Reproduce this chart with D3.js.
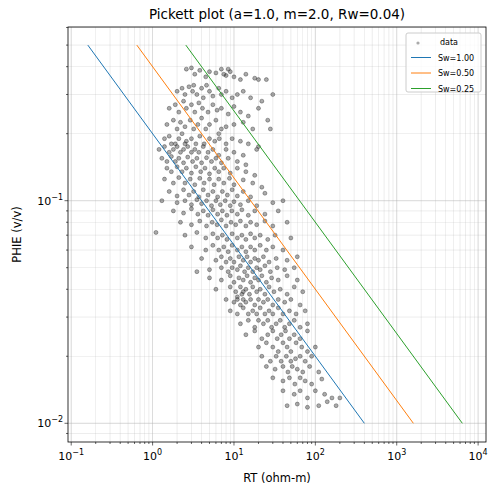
<!DOCTYPE html>
<html><head><meta charset="utf-8">
<script src="https://cdn.jsdelivr.net/npm/d3@7"></script>
<style>body{margin:0;background:#fff}text{font-family:"DejaVu Sans",sans-serif}</style>
</head><body><svg id="c" width="502" height="495"></svg>
<script>
const a=1.0, m=2.0, n=2.0, Rw=0.04;
const swValues=[1.0,0.5,0.25];
const swColors=["#1f77b4","#ff7f0e","#2ca02c"];
const xTickExps=[-1,0,1,2,3,4];
const yTickExps=[-2,-1];
// scatter data: [RT, PHIE]
const scatter=[
[2.6,0.39],[3.0,0.395],[3.3,0.37],[3.8,0.385],[4.5,0.36],[5,0.38],[6,0.375],[7,0.39],[8,0.365],[9,0.38],[10,0.36],[12,0.35],[14,0.37],[18,0.355],[20,0.35],[25,0.35],[8.5,0.39],[7.5,0.37],
[2.0,0.31],[2.3,0.32],[2.5,0.3],[2.8,0.325],[3.1,0.31],[3.5,0.3],[4,0.32],[4.2,0.29],[5,0.31],[5.5,0.295],[6.5,0.32],[7,0.3],[8,0.31],[9.5,0.29],[11,0.3],[13,0.31],[16,0.29],[22,0.28],[30,0.3],[3.2,0.33],[4.6,0.33],
[1.6,0.26],[1.9,0.27],[2.1,0.25],[2.4,0.28],[2.6,0.26],[3,0.27],[3.3,0.25],[3.7,0.275],[4.1,0.26],[4.8,0.25],[5.5,0.27],[6.2,0.255],[7,0.26],[8.5,0.245],[10,0.265],[12,0.25],[15,0.24],[20,0.26],[26,0.23],
[1.5,0.22],[1.8,0.23],[2,0.21],[2.2,0.225],[2.5,0.215],[2.9,0.23],[3.2,0.21],[3.6,0.22],[4,0.235],[4.5,0.21],[5,0.22],[6,0.23],[7,0.21],[8,0.215],[10,0.22],[13,0.225],[17,0.21],[28,0.21],[6.5,0.2],
[1.4,0.19],[1.6,0.195],[1.9,0.18],[2.1,0.19],[2.3,0.2],[2.6,0.185],[3,0.19],[3.4,0.18],[3.8,0.195],[4.3,0.18],[5,0.19],[5.8,0.185],[6.6,0.19],[8,0.18],[9.5,0.19],[12,0.185],[15,0.18],[20,0.175],
[1.2,0.17],[1.4,0.175],[1.6,0.165],[1.8,0.17],[2,0.175],[2.2,0.165],[2.4,0.17],[2.7,0.175],[3,0.165],[3.3,0.17],[3.7,0.165],[4.2,0.175],[4.8,0.165],[5.5,0.17],[6.5,0.16],[8,0.17],[10,0.165],[13,0.16],[19,0.17],[1.7,0.18],[2.5,0.18],
[1.3,0.155],[1.5,0.15],[1.7,0.158],[1.9,0.15],[2.1,0.155],[2.4,0.148],[2.7,0.157],[3.1,0.15],[3.5,0.155],[4,0.148],[4.6,0.156],[5.3,0.15],[6,0.155],[7,0.148],[8.5,0.155],[11,0.15],[14,0.145],
[1.5,0.14],[1.7,0.135],[2,0.142],[2.3,0.135],[2.6,0.14],[3,0.133],[3.4,0.142],[3.9,0.135],[4.4,0.14],[5,0.132],[5.8,0.14],[6.5,0.135],[7.5,0.14],[9,0.133],[11,0.14],[14,0.135],[18,0.13],
[1.4,0.125],[1.8,0.12],[2.1,0.127],[2.5,0.12],[2.9,0.125],[3.3,0.118],[3.8,0.126],[4.3,0.12],[5,0.125],[5.7,0.118],[6.5,0.125],[7.5,0.12],[8.8,0.126],[10,0.118],[13,0.124],[17,0.12],[22,0.115],
[1.6,0.11],[2,0.105],[2.4,0.112],[2.8,0.106],[3.2,0.11],[3.7,0.104],[4.2,0.112],[4.8,0.106],[5.5,0.11],[6.3,0.104],[7.2,0.11],[8.3,0.106],[9.5,0.112],[11,0.105],[13,0.11],[16,0.104],[24,0.108],
[1.3,0.1],[2,0.098],[2.5,0.1],[3,0.096],[3.5,0.101],[4,0.097],[4.6,0.1],[5.3,0.095],[6,0.1],[6.8,0.096],[7.8,0.1],[9,0.095],[10,0.099],[12,0.096],[15,0.1],[19,0.095],[30,0.098],[40,0.1],
[1.8,0.09],[2.4,0.088],[3,0.092],[3.6,0.087],[4.2,0.09],[4.8,0.086],[5.5,0.091],[6.3,0.087],[7.2,0.09],[8.2,0.086],[9.4,0.09],[11,0.087],[12.5,0.091],[15,0.086],[18,0.09],[24,0.087],[35,0.09],
[1.1,0.072],[2.2,0.08],[3,0.078],[3.8,0.081],[4.6,0.077],[5.4,0.08],[6.2,0.078],[7,0.082],[8,0.077],[9.2,0.08],[10.5,0.078],[12,0.081],[14,0.077],[16,0.08],[19,0.078],[24,0.081],[30,0.077],[45,0.08],
[2.5,0.07],[3.5,0.072],[4.5,0.068],[5.5,0.071],[6.3,0.068],[7.2,0.07],[8.2,0.067],[9.5,0.071],[11,0.068],[12.5,0.07],[14,0.067],[16,0.071],[18,0.068],[21,0.07],[26,0.067],[32,0.07],[50,0.068],
[3,0.062],[4.5,0.06],[5.5,0.063],[6.5,0.06],[7.5,0.062],[8.5,0.059],[9.5,0.063],[11,0.06],[12.5,0.062],[14,0.059],[16,0.062],[18,0.06],[21,0.063],[25,0.06],[30,0.062],[40,0.06],
[4,0.055],[6,0.054],[7,0.056],[8,0.053],[9,0.055],[10,0.053],[11.5,0.056],[13,0.054],[14.5,0.056],[16,0.053],[18,0.055],[20,0.054],[23,0.056],[27,0.053],[33,0.055],[45,0.054],[60,0.056],
[3.5,0.048],[5,0.049],[7,0.05],[8.5,0.048],[9.5,0.05],[11,0.049],[12,0.051],[13.5,0.048],[15,0.05],[17,0.048],[19,0.05],[21,0.049],[24,0.051],[28,0.048],[34,0.05],[42,0.049],[55,0.05],
[5,0.045],[7,0.044],[9,0.046],[10,0.043],[11.5,0.045],[13,0.044],[14.5,0.046],[16,0.043],[18,0.045],[20,0.044],[22,0.046],[25,0.043],[29,0.045],[35,0.044],[45,0.046],[60,0.044],
[6,0.04],[9,0.041],[10.5,0.039],[12,0.041],[13,0.039],[14,0.04],[15.5,0.038],[17,0.041],[19,0.039],[21,0.04],[24,0.038],[27,0.041],[31,0.039],[37,0.04],[45,0.038],[55,0.041],[70,0.039],[11,0.037],[12.5,0.038],
[8,0.036],[10,0.035],[11,0.036],[12,0.034],[13,0.036],[14,0.035],[16,0.036],[18,0.034],[20,0.036],[23,0.035],[26,0.036],[30,0.034],[35,0.036],[42,0.035],[50,0.036],[65,0.034],
[9,0.032],[11,0.031],[13,0.033],[15,0.031],[17,0.032],[19,0.031],[21,0.033],[24,0.031],[27,0.032],[30,0.031],[35,0.033],[40,0.031],[48,0.032],[58,0.031],[75,0.032],
[12,0.028],[15,0.029],[18,0.027],[20,0.029],[23,0.028],[26,0.029],[29,0.027],[33,0.028],[37,0.029],[42,0.027],[48,0.028],[55,0.029],[65,0.027],[80,0.028],
[14,0.025],[18,0.026],[22,0.024],[26,0.025],[30,0.026],[34,0.024],[38,0.025],[43,0.026],[48,0.024],[55,0.025],[65,0.024],[80,0.026],
[20,0.022],[25,0.023],[30,0.022],[35,0.021],[40,0.023],[45,0.022],[50,0.021],[58,0.023],[68,0.022],[80,0.021],[100,0.022],
[22,0.02],[28,0.019],[33,0.02],[38,0.019],[44,0.02],[50,0.019],[57,0.0195],[65,0.02],[75,0.019],[90,0.02],
[25,0.018],[32,0.0175],[40,0.018],[46,0.017],[52,0.018],[60,0.0175],[70,0.017],[85,0.018],[110,0.017],
[30,0.016],[40,0.0155],[48,0.016],[56,0.015],[65,0.016],[75,0.0155],[90,0.015],[120,0.0158],
[40,0.014],[55,0.0135],[65,0.014],[80,0.013],[100,0.014],[130,0.0135],[160,0.013],
[45,0.012],[60,0.0122],[80,0.0118],[110,0.012],[140,0.0125],[180,0.012],[200,0.013]
];

const svg=d3.select("#c");
const L=68,R=486,T=27,B=442;
const x=d3.scaleLog().domain([0.0913,12500]).range([L,R]);
const y=d3.scaleLog().domain([0.00824,0.603]).range([B,T]);
const g=svg.append("g");
const isMajor=d=>Math.abs(Math.log10(d)-Math.round(Math.log10(d)))<1e-6;
const xMinor=[],yMinor=[];
for(let e=-2;e<=4;e++)for(let k=1;k<10;k++){const v=k*Math.pow(10,e);if(v>=x.domain()[0]&&v<=x.domain()[1])xMinor.push(v);}
for(let e=-3;e<=0;e++)for(let k=1;k<10;k++){const v=k*Math.pow(10,e);if(v>=y.domain()[0]&&v<=y.domain()[1])yMinor.push(v);}
g.selectAll(".gx").data(xMinor).join("line").attr("x1",d=>x(d)).attr("x2",d=>x(d)).attr("y1",T).attr("y2",B)
 .attr("stroke","#b0b0b0").attr("stroke-width",d=>isMajor(d)?0.8:0.5).attr("opacity",d=>isMajor(d)?0.6:0.45);
g.selectAll(".gy").data(yMinor).join("line").attr("y1",d=>y(d)).attr("y2",d=>y(d)).attr("x1",L).attr("x2",R)
 .attr("stroke","#b0b0b0").attr("stroke-width",d=>isMajor(d)?0.8:0.5).attr("opacity",d=>isMajor(d)?0.6:0.45);
g.selectAll(".pt").data(scatter).join("circle").attr("cx",d=>x(d[0])).attr("cy",d=>y(d[1])).attr("r",2)
 .attr("fill","#444").attr("fill-opacity",0.45).attr("stroke","#000").attr("stroke-opacity",0.5).attr("stroke-width",0.6);
const phis=[0.5,0.01];
swValues.forEach((sw,i)=>{
 const pts=phis.map(p=>[a*Rw/(Math.pow(p,m)*Math.pow(sw,n)),p]);
 g.append("path").attr("d",d3.line().x(d=>x(d[0])).y(d=>y(d[1]))(pts)).attr("stroke",swColors[i]).attr("stroke-width",1).attr("fill","none");
});
svg.append("rect").attr("x",L).attr("y",T).attr("width",R-L).attr("height",B-T).attr("fill","none").attr("stroke","#000").attr("stroke-width",0.8);
svg.selectAll(".mx").data(xMinor).join("line").attr("x1",d=>x(d)).attr("x2",d=>x(d)).attr("y1",B).attr("y2",d=>B+(isMajor(d)?3.5:2)).attr("stroke","#000").attr("stroke-width",0.6);
svg.selectAll(".my").data(yMinor).join("line").attr("y1",d=>y(d)).attr("y2",d=>y(d)).attr("x1",d=>L-(isMajor(d)?3.5:2)).attr("x2",L).attr("stroke","#000").attr("stroke-width",0.6);
const xt=svg.selectAll(".xt").data(xTickExps).join("text").attr("class","xt").attr("x",d=>x(Math.pow(10,d))).attr("y",B+18).attr("text-anchor","middle").attr("font-size",11);
xt.append("tspan").text("10");xt.append("tspan").attr("dy",-5).attr("font-size",8).text(d=>d<0?"\u2212"+(-d):d);
const yt=svg.selectAll(".yt").data(yTickExps).join("text").attr("class","yt").attr("x",L-5).attr("y",d=>y(Math.pow(10,d))+4).attr("text-anchor","end").attr("font-size",11);
yt.append("tspan").text("10");yt.append("tspan").attr("dy",-5).attr("font-size",8).text(d=>"\u2212"+(-d));
svg.append("text").attr("x",(L+R)/2).attr("y",19).attr("text-anchor","middle").attr("font-size",13.5).text("Pickett plot (a=1.0, m=2.0, Rw=0.04)");
svg.append("text").attr("x",(L+R)/2).attr("y",482).attr("text-anchor","middle").attr("font-size",11.5).text("RT (ohm-m)");
svg.append("text").attr("transform",`translate(21,${(T+B)/2}) rotate(-90)`).attr("text-anchor","middle").attr("font-size",11.5).text("PHIE (v/v)");
const lg=svg.append("g").attr("transform","translate(406,33)");
lg.append("rect").attr("width",75).attr("height",59).attr("rx",2).attr("fill","#fff").attr("fill-opacity",0.8).attr("stroke","#ccc");
lg.append("circle").attr("cx",12).attr("cy",10).attr("r",1.6).attr("fill","#555").attr("fill-opacity",0.5);
const labels=["data"].concat(swValues.map(s=>"Sw="+s.toFixed(2)));
labels.forEach((t,i)=>{lg.append("text").attr("x",i?32:34).attr("y",12+i*15.5).attr("font-size",8).text(t);
 if(i){lg.append("line").attr("x1",5).attr("x2",25).attr("y1",9+i*15.5).attr("y2",9+i*15.5).attr("stroke",swColors[i-1]).attr("stroke-width",1);}});
</script></body></html>
